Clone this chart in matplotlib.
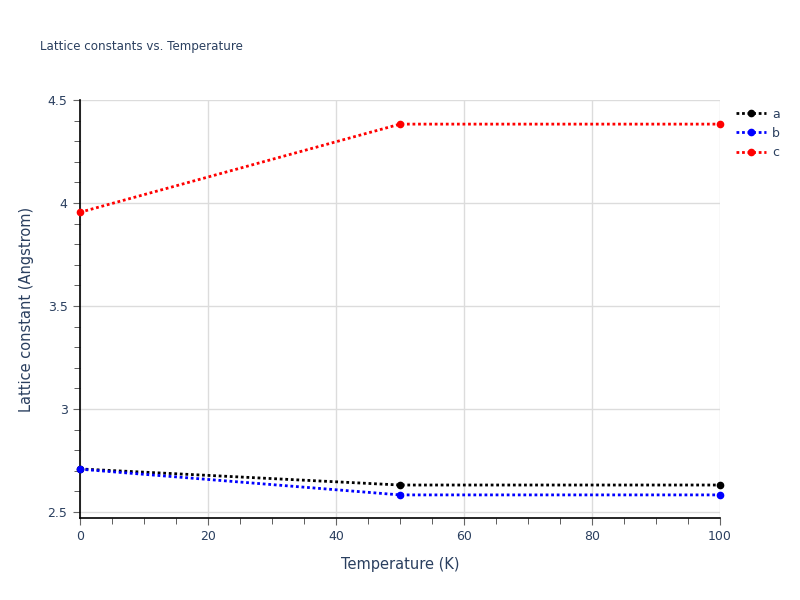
import matplotlib
matplotlib.use("Agg")
import matplotlib.pyplot as plt
from matplotlib.ticker import MultipleLocator

# データ
temperature = [0, 50, 100]
lattice_a = [2.709, 2.631, 2.631]
lattice_b = [2.708, 2.583, 2.583]
lattice_c = [3.955, 4.383, 4.383]
series_names = ["a", "b", "c"]
series_colors = ["black", "blue", "red"]

text_color = "#2a3f5f"
grid_color = "#dcdcdc"

fig = plt.figure(figsize=(8, 6), dpi=100)
ax = fig.add_axes([0.1, 0.1367, 0.8, 0.6966])

for name, values, color in zip(series_names, [lattice_a, lattice_b, lattice_c], series_colors):
    ax.plot(temperature, values, linestyle=(0, (1, 1)), linewidth=2, color=color,
            marker="o", markersize=4.5, label=name, clip_on=False, zorder=3)

ax.set_xlim(0, 100)
ax.set_ylim(2.471, 4.5)
ax.xaxis.set_major_locator(MultipleLocator(20))
ax.xaxis.set_minor_locator(MultipleLocator(5))
ax.yaxis.set_major_locator(MultipleLocator(0.5))
ax.yaxis.set_minor_locator(MultipleLocator(0.1))
ax.yaxis.set_major_formatter(plt.FuncFormatter(lambda v, p: f"{v:g}"))

ax.grid(True, which="major", color=grid_color, linewidth=1)
ax.set_axisbelow(True)
for side in ["top", "right"]:
    ax.spines[side].set_visible(False)
for side in ["left", "bottom"]:
    ax.spines[side].set_color("black")
    ax.spines[side].set_linewidth(1.2)

ax.tick_params(which="major", length=5, color="#666666", labelcolor=text_color, labelsize=9, pad=4)
ax.tick_params(which="minor", length=4, color="#444444")

ax.set_xlabel("Temperature (K)", color=text_color, fontsize=10.5, labelpad=10)
ax.set_ylabel("Lattice constant (Angstrom)", color=text_color, fontsize=10.5, labelpad=10)
fig.text(0.05, 0.923, "Lattice constants vs. Temperature", color=text_color, fontsize=8.6, va="center")

leg = ax.legend(loc="upper left", bbox_to_anchor=(1.013, 1.0), frameon=False,
                fontsize=9, handlelength=2.4, handletextpad=0.5, labelspacing=0.5,
                borderaxespad=0.2)
for t in leg.get_texts():
    t.set_color(text_color)

fig.savefig("out.png", dpi=100)
